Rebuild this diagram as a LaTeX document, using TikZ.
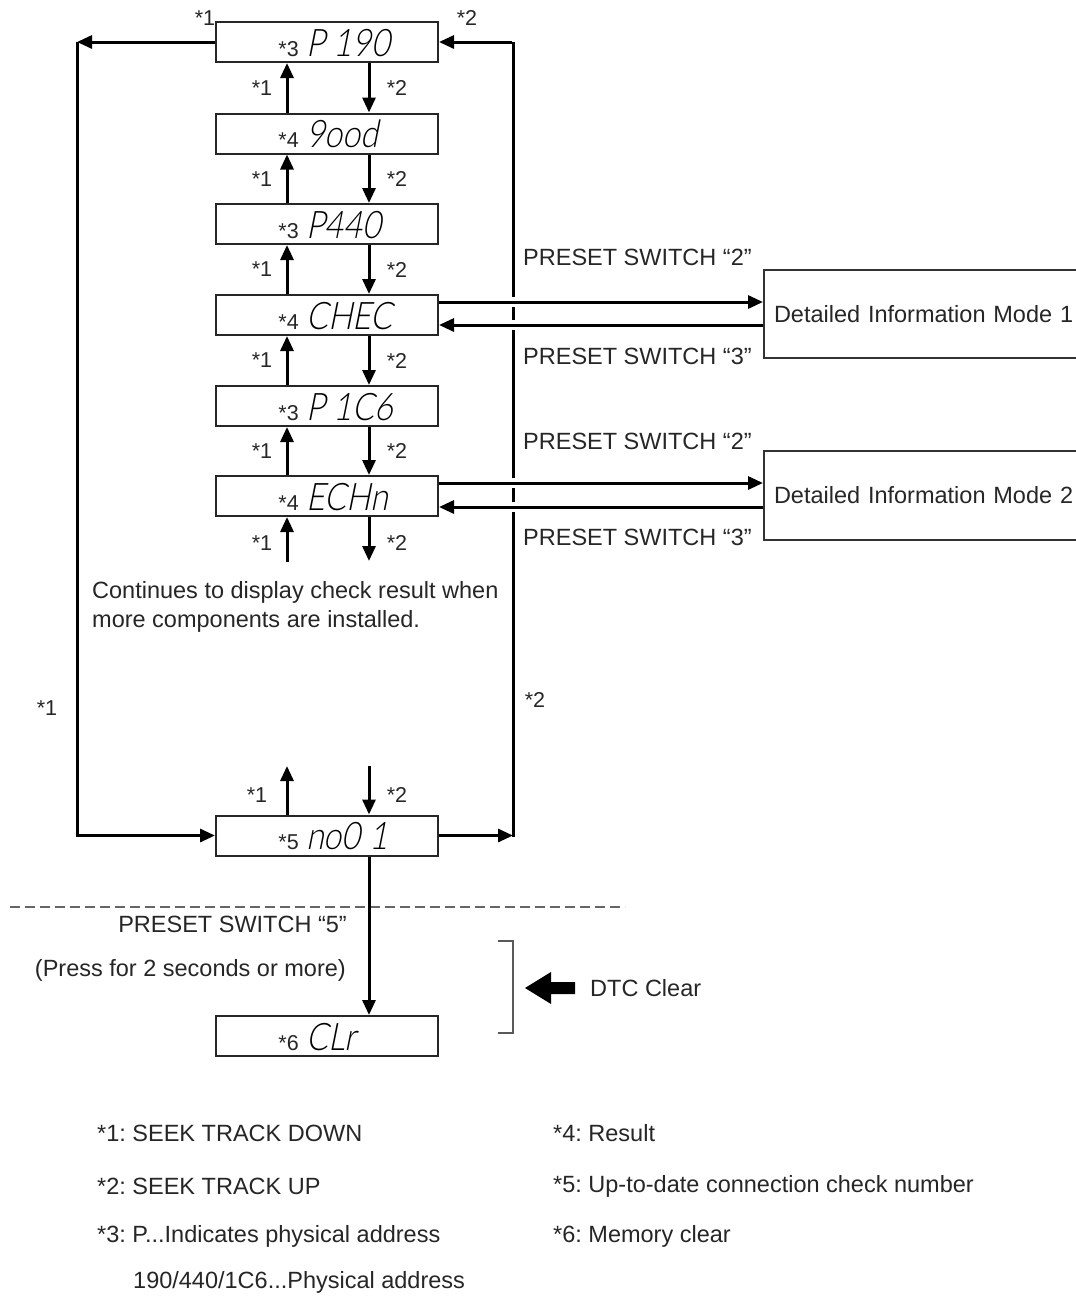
\documentclass[tikz,border=0pt]{standalone}
\usepackage{fontspec}
\setmainfont{Liberation Sans}
\newfontfamily\segfont[FakeSlant=0.2,FakeStretch=0.85]{Lato Light}
\usetikzlibrary{arrows.meta,calc}
\frenchspacing
\begin{document}
\begin{tikzpicture}[x=1pt,y=-1pt,
  disp/.style={draw=black!85, line width=2pt, minimum width=222pt, minimum height=40pt, inner sep=0pt},
  modebox/.style={draw=black!80, line width=2pt, anchor=west, text width=330pt, inner xsep=10pt, align=left,
    font=\fontsize{23.5}{28}\selectfont, text=black!85},
  arr/.style={line width=3pt, -{Triangle[length=15pt,width=13pt]}},
  ln/.style={line width=3pt},
  txt/.style={font=\fontsize{23.5}{29}\selectfont, text=black!85, inner sep=0pt},
  star/.style={font=\fontsize{21.5}{24}\selectfont, text=black!85, inner sep=0pt},
  seg/.style={font=\segfont\fontsize{38}{40}\selectfont, inner sep=0pt},
]
\useasboundingbox (0,0) rectangle (1076,1299);
\clip (0,0) rectangle (1076,1299);
\fill[white] (0,0) rectangle (1076,1299);

% display boxes
\newcommand\dispbox[4]{%
  \node[disp] (#1) at (327,#2) {};
  \node[star, anchor=base east] (#1s) at (299,{#2+14}) {#3};
  \node[seg, anchor=base west] (#1t) at (306,{#2+14}) {#4};
}
\dispbox{b1}{42}{*3}{P 190}
\dispbox{b2}{133.5}{*4}{9ood}
\dispbox{b3}{224}{*3}{P440}
\dispbox{b4}{315}{*4}{CHEC}
\dispbox{b5}{406}{*3}{P 1C6}
\dispbox{b6}{496}{*4}{ECHn}
\dispbox{b7}{835.5}{*5}{no0 1}
\dispbox{b8}{1036}{*6}{CLr}

% arrows between consecutive boxes
\foreach \a/\b in {b1/b2,b2/b3,b3/b4,b4/b5,b5/b6} {
  \draw[arr] ([xshift=-40pt]\b.north) -- ([xshift=-40pt]\a.south);
  \draw[arr] ([xshift=42pt]\a.south) -- ([xshift=42pt]\b.north);
  \node[star] at ($(\a.south)!0.5!(\b.north)+(-65,0)$) {*1};
  \node[star] at ($(\a.south)!0.5!(\b.north)+(70,0)$) {*2};
}

% arrows below ECHn
\coordinate (u6) at (287,562);
\coordinate (d6) at (369,561);
\draw[arr] (u6) -- ([xshift=-40pt]b6.south);
\draw[arr] ([xshift=42pt]b6.south) -- (d6);
\node[star] at (262,543) {*1};
\node[star] at (397,543) {*2};

% arrows above no01
\coordinate (u7) at (287,766);
\coordinate (d7) at (369,766);
\draw[arr] ([xshift=-40pt]b7.north) -- (u7);
\draw[arr] (d7) -- ([xshift=42pt]b7.north);
\node[star] at (257,795) {*1};
\node[star] at (397,795) {*2};

\node[txt, anchor=north west, align=left] (cont) at (92,581)
  {Continues to display check result when\\more components are installed.};

% loops
\coordinate (LT) at (77,42);
\coordinate (LB) at (77,835.5);
\coordinate (RT) at (513,42);
\coordinate (RB) at (513,835.5);
\draw[arr] (b1.west) -- (LT);
\draw[ln] (LT) -- (LB);
\draw[arr] ([xshift=-1.5pt]LB) -- (b7.west);
\draw[arr] (b7.east) -- (RB);
\draw[ln] ([yshift=-1.5pt]RB) -- (RT);
\draw[arr] ([xshift=-1.5pt]RT) -- (b1.east);
\node[star] at (205,18) {*1};
\node[star] at (467,18) {*2};
\node[star] at (47,708) {*1};
\node[star] at (535,700) {*2};

% detailed information modes
\node[modebox, minimum height=88pt] (m1) at (763,314) {Detailed Information Mode 1};
\node[modebox, minimum height=89pt] (m2) at (763,495.5) {Detailed Information Mode 2};

\foreach \y in {302,325,483,507} \fill[white] (505,{\y-5}) rectangle (521,{\y+5});

\draw[arr] ([yshift=13pt]b4.east) -- ([yshift=13pt]b4.east -| m1.west);
\draw[arr] ([yshift=-10pt]b4.east -| m1.west) -- ([yshift=-10pt]b4.east);
\draw[arr] ([yshift=13pt]b6.east) -- ([yshift=13pt]b6.east -| m2.west);
\draw[arr] ([yshift=-11pt]b6.east -| m2.west) -- ([yshift=-11pt]b6.east);

\node[txt, anchor=west] at (523,257) {PRESET SWITCH “2”};
\node[txt, anchor=west] at (523,356) {PRESET SWITCH “3”};
\node[txt, anchor=west] at (523,441) {PRESET SWITCH “2”};
\node[txt, anchor=west] at (523,537) {PRESET SWITCH “3”};

% DTC clear part
\coordinate (dl) at (10,907);
\coordinate (dr) at (625,907);
\draw[black!60, line width=1.5pt, dash pattern=on 10pt off 5pt] (dl) -- (dr);
\draw[arr] ([xshift=42pt]b7.south) -- ([xshift=42pt]b8.north);
\node[txt, anchor=east] at (347,924) {PRESET SWITCH “5”};
\node[txt, anchor=east] at (346,970) {(Press for 2 seconds or more)};
\coordinate (bt) at (498,941);
\coordinate (bb) at (498,1033);
\draw[black!65, line width=1.5pt] (bt) -| (513,1033) -- (bb);
\fill[black] (525,988) -- (551,972) -- (551,982) -- (575,982) -- (575,994) -- (551,994) -- (551,1004) -- cycle;
\node[txt, anchor=west] (dtc) at (590,988) {DTC Clear};

% footnotes
\node[txt, anchor=west] at (97,1133) {*1: SEEK TRACK DOWN};
\node[txt, anchor=west] at (97,1186) {*2: SEEK TRACK UP};
\node[txt, anchor=west] at (97,1236) {*3: P...Indicates physical address};
\node[txt, anchor=west] at (133,1282) {190/440/1C6...Physical address};
\node[txt, anchor=west] at (553,1133) {*4: Result};
\node[txt, anchor=west] at (553,1186) {*5: Up-to-date connection check number};
\node[txt, anchor=west] at (553,1236) {*6: Memory clear};
\end{tikzpicture}
\end{document}
